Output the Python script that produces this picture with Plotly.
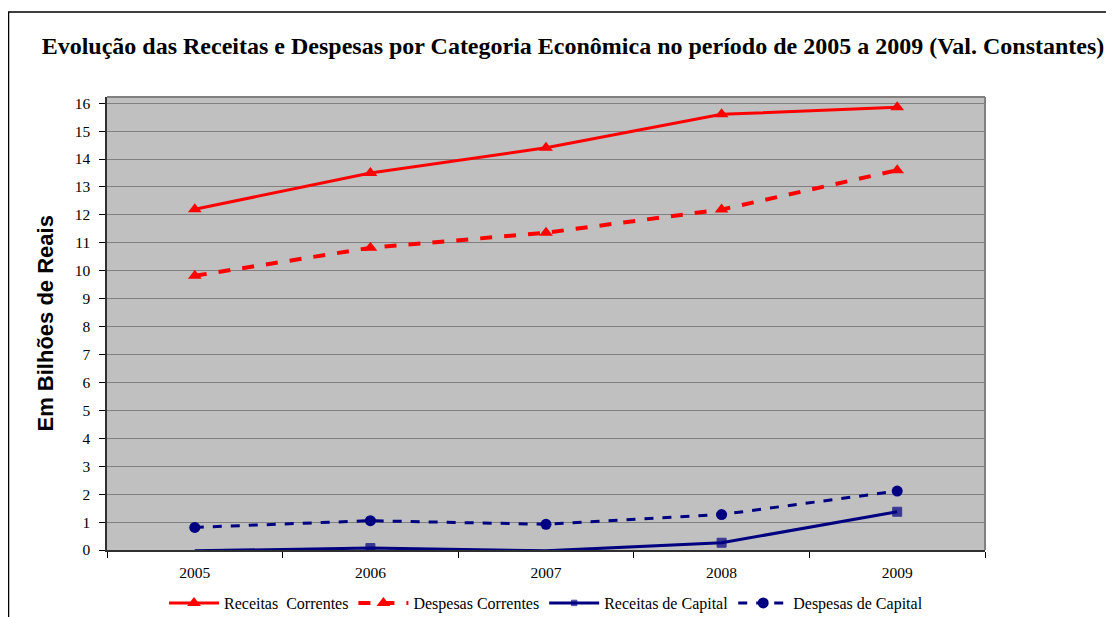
import plotly.graph_objects as go

anos = ["2005", "2006", "2007", "2008", "2009"]
receitas_correntes = [12.2, 13.5, 14.4, 15.6, 15.85]
despesas_correntes = [9.82, 10.82, 11.36, 12.19, 13.6]
receitas_capital = [-0.03, 0.07, -0.03, 0.26, 1.37]
despesas_capital = [0.81, 1.05, 0.92, 1.27, 2.11]

titulo = "Evolução das Receitas e Despesas por Categoria Econômica no período de 2005 a 2009 (Val. Constantes)"
eixo_y = "Em Bilhões de Reais"

RED = "#FF0000"
NAVY = "#000080"
serif = "Liberation Serif, Times New Roman, serif"

fig = go.Figure()
fig.add_trace(go.Scatter(x=anos, y=receitas_correntes, name="Receitas  Correntes",
                         mode="lines+markers", line=dict(color=RED, width=3),
                         marker=dict(symbol="triangle-up", size=12, color=RED)))
fig.add_trace(go.Scatter(x=anos, y=despesas_correntes, name="Despesas Correntes",
                         mode="lines+markers", line=dict(color=RED, width=4, dash="dash"),
                         marker=dict(symbol="triangle-up", size=12, color=RED)))
# markers below the axis are hidden in the original
cap_sizes = [0 if v < 0 else 9 for v in receitas_capital]
fig.add_trace(go.Scatter(x=anos, y=receitas_capital, name="Receitas de Capital",
                         mode="lines+markers", line=dict(color=NAVY, width=3),
                         marker=dict(symbol="square", size=cap_sizes, color=NAVY,
                                     line=dict(width=1, color=NAVY))))
fig.add_trace(go.Scatter(x=anos, y=despesas_capital, name="Despesas de Capital",
                         mode="lines+markers", line=dict(color=NAVY, width=3, dash="dash"),
                         marker=dict(symbol="circle", size=11, color=NAVY)))

# page body has an 8px margin, so figure coords = reference coords - 8
OFF = 8
W, H = 1114 - OFF, 617 - OFF
L, R, T, B = 107 - OFF, 985 - OFF, 97 - OFF, 550 - OFF
pw, ph = R - L, B - T

def px(x):
    return (x - OFF - L) / pw

def py(y):
    return (B - (y - OFF)) / ph

fig.update_layout(
    width=W, height=H,
    margin=dict(l=L, r=W - R, t=T, b=H - B, autoexpand=False),
    paper_bgcolor="white",
    plot_bgcolor="#C0C0C0",
    font=dict(family=serif, size=15, color="black"),
    title=dict(text="<b>" + titulo + "</b>", xref="container", yref="container",
               x=(573 - OFF) / W, y=1 - (46 - OFF) / H, xanchor="center", yanchor="middle",
               font=dict(family=serif, size=24, color="black")),
    legend=dict(orientation="h", xref="container", yref="container",
                x=(546 - OFF) / W, y=1 - (603 - OFF) / H, xanchor="center", yanchor="middle",
                font=dict(family=serif, size=16), bgcolor="rgba(0,0,0,0)",
                itemwidth=50, tracegroupgap=0),
    showlegend=True,
    shapes=[
        dict(type="rect", xref="paper", yref="paper",
             x0=px(8.5), x1=px(1130), y0=py(640), y1=py(12),
             line=dict(color="black", width=1.5), layer="below"),
    ],
    annotations=[
        dict(text="<b>" + eixo_y + "</b>", xref="paper", yref="paper",
             x=px(45), y=0.5, textangle=-90, showarrow=False,
             xanchor="center", yanchor="middle",
             font=dict(family="Liberation Sans, Arial, sans-serif", size=22, color="black")),
    ],
)

fig.update_xaxes(type="category", range=[-0.5, 4.5], tickson="boundaries",
                 ticks="outside", ticklen=6, tickcolor="black",
                 showline=True, linecolor="#303030", linewidth=1.5,
                 mirror=False, showgrid=False, zeroline=False, ticklabelstandoff=8,
                 tickfont=dict(family=serif, size=15.5))
fig.update_yaxes(range=[0, 16.22], tickvals=list(range(0, 17)),
                 ticks="outside", ticklen=6, tickcolor="black",
                 showline=True, linecolor="#303030", linewidth=1.5,
                 showgrid=True, gridcolor="#808080", gridwidth=1,
                 zeroline=False, ticklabelstandoff=6,
                 tickfont=dict(family=serif, size=15.5))

# gray border on top and right of plot area
fig.add_shape(type="line", xref="paper", yref="paper", x0=0, x1=1, y0=1, y1=1,
              line=dict(color="#808080", width=2))
fig.add_shape(type="line", xref="paper", yref="paper", x0=1, x1=1, y0=0, y1=1,
              line=dict(color="#808080", width=2))

fig.write_html("out.html")
